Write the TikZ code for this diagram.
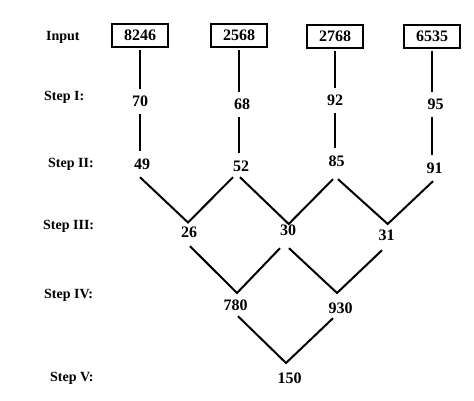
\documentclass[tikz,border=0pt]{standalone}
\usepackage{fontspec}
\setmainfont{Liberation Serif}
\begin{document}
\begin{tikzpicture}[x=1pt,y=-1pt,
  lab/.style={anchor=base west,inner sep=0pt,font=\fontsize{14}{16}\selectfont\bfseries},
  inbox/.style={draw,line width=2pt,minimum width=56pt,minimum height=23pt,inner sep=0pt,font=\fontsize{16}{18}\selectfont\bfseries},
  num/.style={inner sep=0pt,minimum height=26pt,font=\fontsize{16}{18}\selectfont\bfseries},
  conn/.style={line width=2pt}]
\useasboundingbox[fill=white] (0,0) rectangle (474,401);
% labels
\node[lab] (lin) at (46,40.5) {Input};
\node[lab] (l1) at (44,101) {Step I:};
\node[lab] (l2) at (48,167.5) {Step II:};
\node[lab] (l3) at (43,229.5) {Step III:};
\node[lab] (l4) at (44,298.5) {Step IV:};
\node[lab] (l5) at (50,381.5) {Step V:};
% input boxes
\node[inbox] (b1) at (140,35.5) {8246};
\node[inbox] (b2) at (239,35.5) {2568};
\node[inbox] (b3) at (335,36.5) {2768};
\node[inbox] (b4) at (432,36.5) {6535};
% step I
\node[num] (n70) at (140,101) {70};
\node[num] (n68) at (242,104) {68};
\node[num] (n92) at (335,100) {92};
\node[num] (n95) at (435.5,104) {95};
% step II
\node[num] (n49) at (142,164) {49};
\node[num] (n52) at (241,166.5) {52};
\node[num] (n85) at (336.5,161) {85};
\node[num] (n91) at (434.5,168) {91};
% step III
\node[num] (n26) at (189,232) {26};
\node[num] (n30) at (288,230.5) {30};
\node[num] (n31) at (386.5,235.5) {31};
% step IV
\node[num] (n780) at (235.5,305.5) {780};
\node[num] (n930) at (340.5,308.5) {930};
% step V
\node[num] (n150) at (289.5,378) {150};
% vertices
\coordinate (v26) at (188,222.5);
\coordinate (v30) at (288.7,224);
\coordinate (v31) at (387.7,224);
\coordinate (v780) at (237,293);
\coordinate (v930) at (337,293);
\coordinate (v150) at (286,363);
% verticals
\foreach \b/\a/\c in {b1/n70/n49, b2/n68/n52, b3/n92/n85, b4/n95/n91}{
  \draw[conn,shorten <=2pt,shorten >=-1pt] (\b.south) -- (\b.south |- \a.north);
  \draw[conn] (\b.south |- \a.south) -- (\b.south |- \c.north);
}
% step II -> III
\draw[conn] ([shift={(-2,0)}]n49.south) -- (v26) -- ([shift={(-8,-2.5)}]n52.south);
\draw[conn] ([shift={(-1,-2.5)}]n52.south) -- (v30) -- ([shift={(-3.5,5)}]n85.south);
\draw[conn] ([shift={(1.5,5)}]n85.south) -- (v31) -- ([shift={(-1.5,0)}]n91.south);
% step III -> IV
\draw[conn] ([shift={(1,1)}]n26.south) -- (v780) -- ([shift={(-8,4.5)}]n30.south);
\draw[conn] ([shift={(1,4.5)}]n30.south) -- (v930) -- ([shift={(-4.5,1.5)}]n31.south);
% step IV -> V
\draw[conn] ([shift={(2.5,-2.5)}]n780.south) -- (v150) -- ([shift={(-7.5,-3.5)}]n930.south);
\end{tikzpicture}
\end{document}
